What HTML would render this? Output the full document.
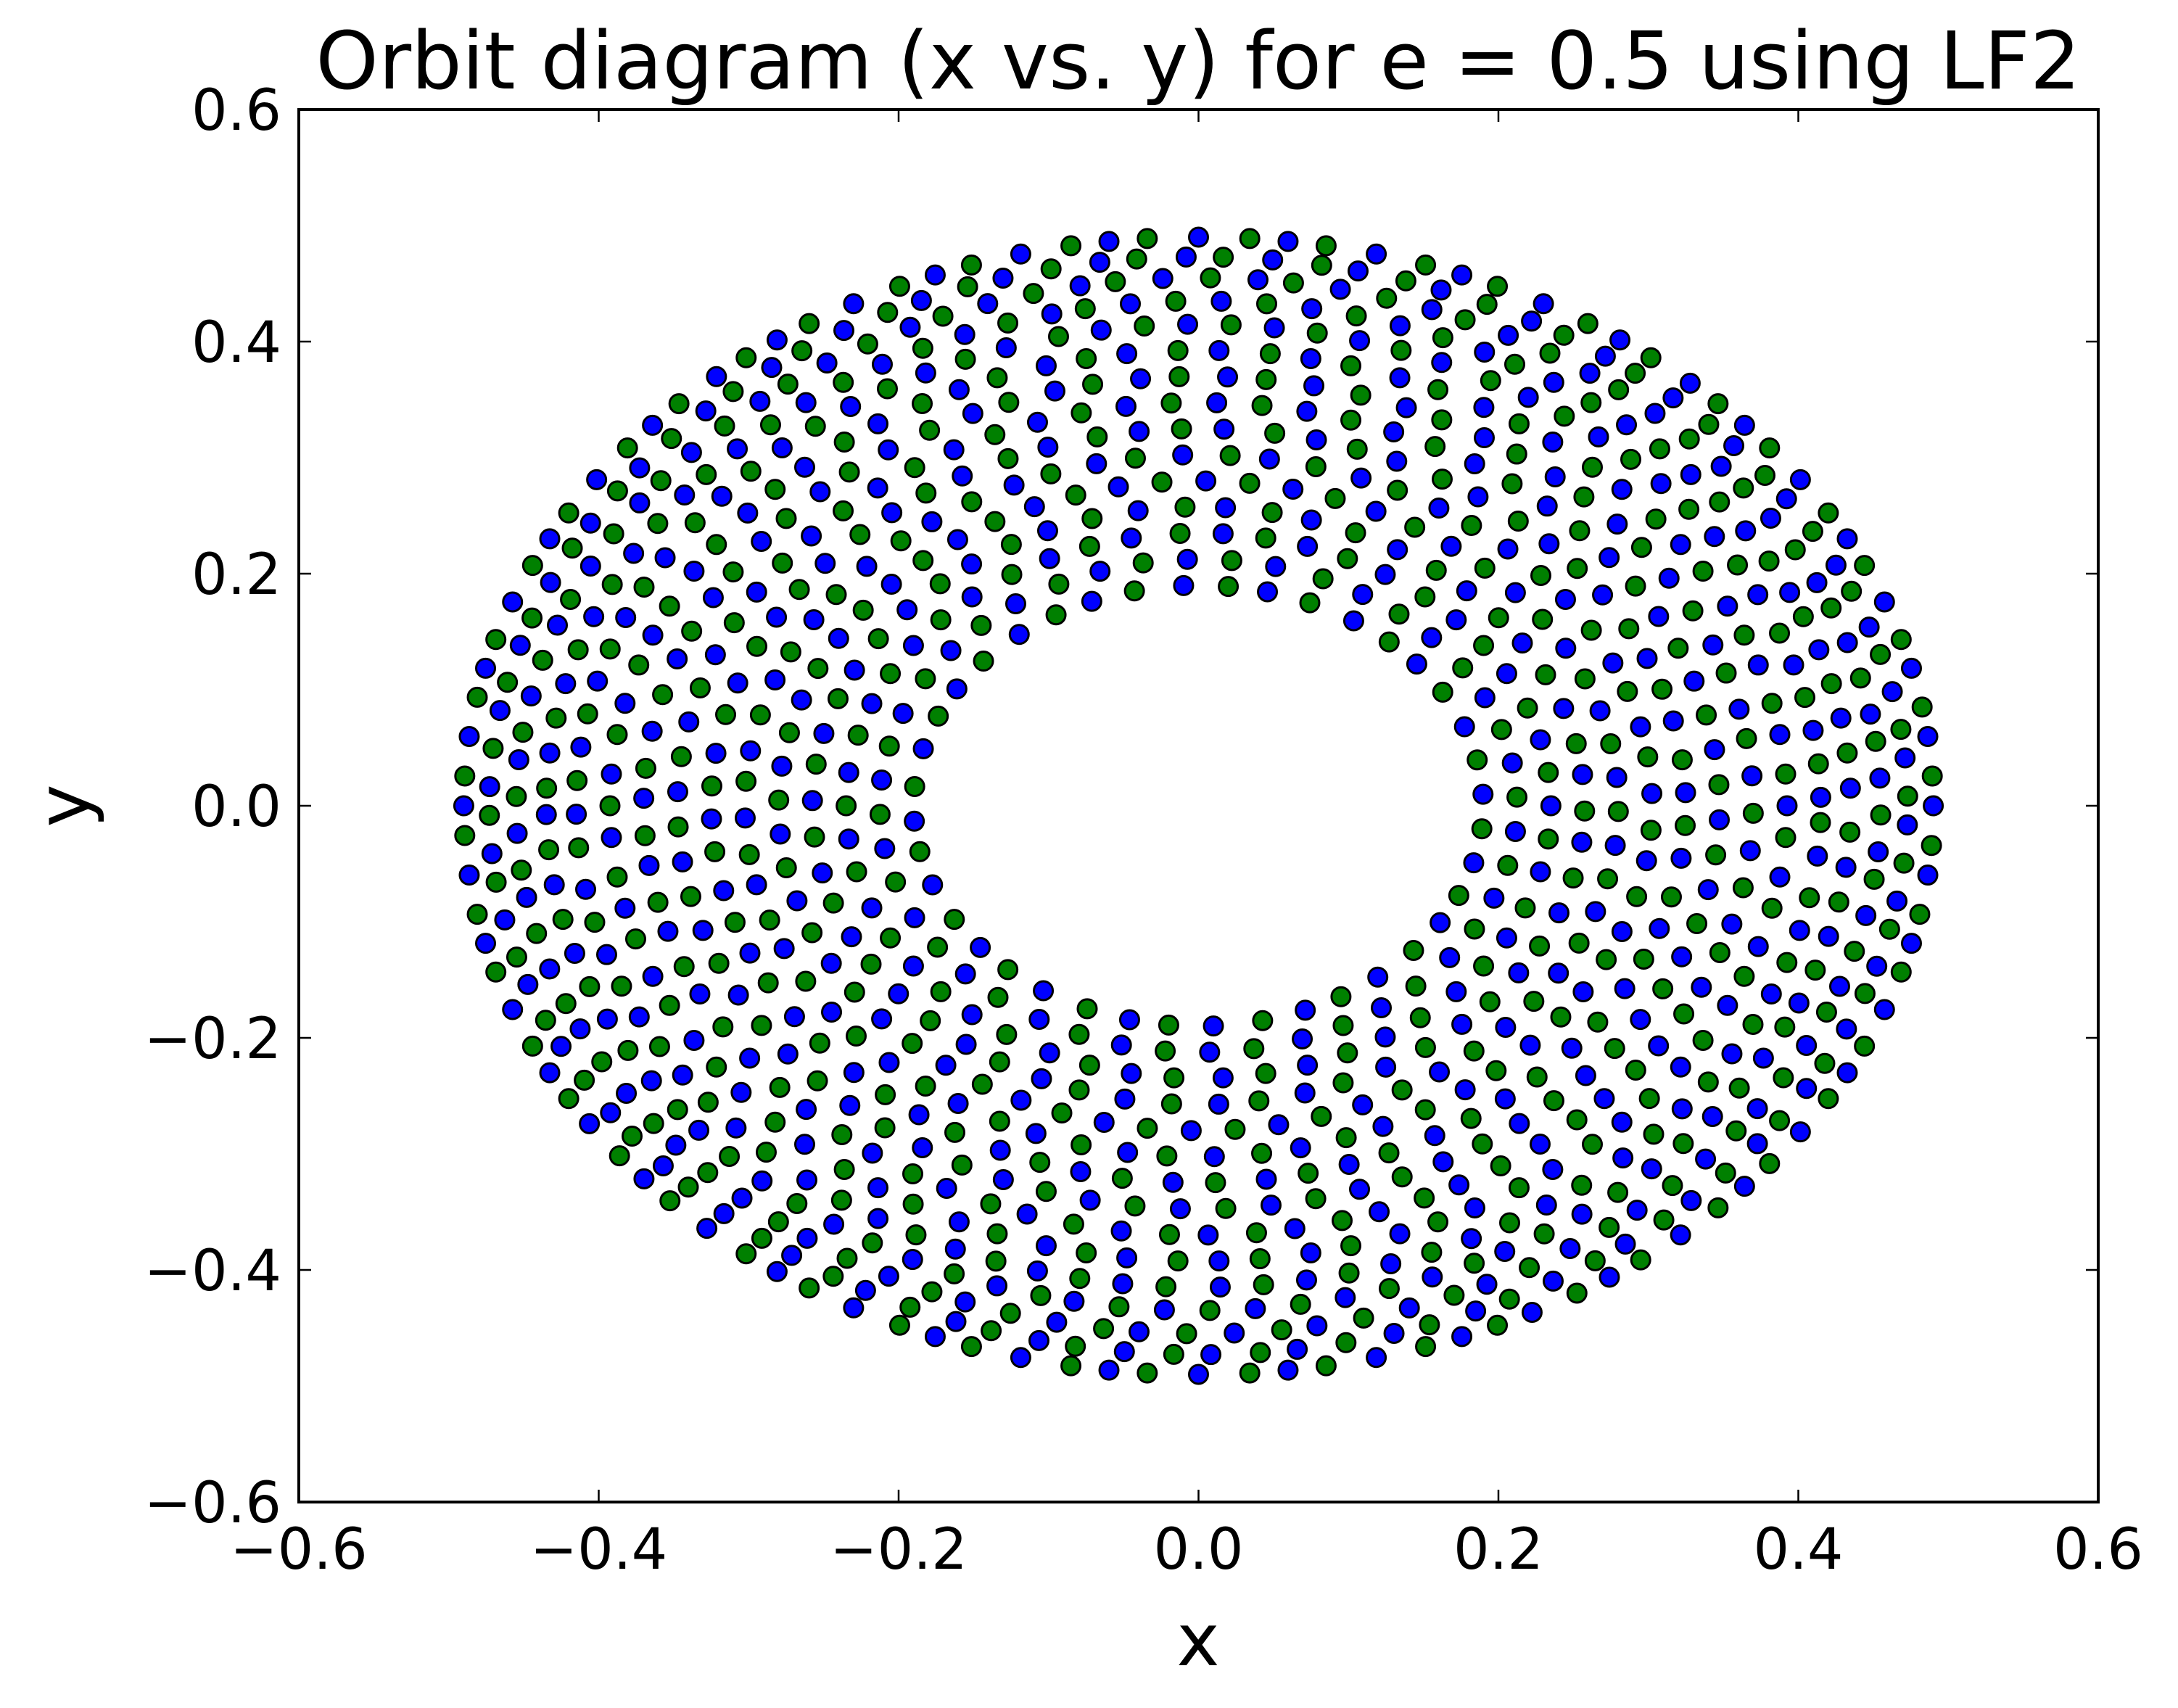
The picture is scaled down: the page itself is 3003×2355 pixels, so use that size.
<!DOCTYPE html>
<html><head><meta charset="utf-8"><style>
html,body{margin:0;padding:0;background:#fff;}
svg{display:block;font-family:"DejaVu Sans","Liberation Sans",sans-serif;}
</style></head><body>
<svg id="chart" width="3003" height="2355" viewBox="0 0 3003 2355" xmlns="http://www.w3.org/2000/svg">
<rect x="0" y="0" width="3003" height="2355" fill="#fff"/>
<text x="1652" y="122" font-size="110" text-anchor="middle">Orbit diagram (x vs. y) for e = 0.5 using LF2</text>
<g id="marks"></g>
<g id="axes"></g>
<text x="1652" y="2296" font-size="100" text-anchor="middle">x</text>
<text x="0" y="0" font-size="100" text-anchor="middle" transform="translate(122,1111) rotate(-90)">y</text>
</svg>
<script>
const xTicks = [-0.6,-0.4,-0.2,0.0,0.2,0.4,0.6];
const yTicks = [-0.6,-0.4,-0.2,0.0,0.2,0.4,0.6];
const tickLabels = ["\u22120.6","\u22120.4","\u22120.2","0.0","0.2","0.4","0.6"];
const blueRadius = [0.19,0.235,0.28,0.325,0.37,0.415,0.455,0.49,0.2125,0.2575,0.3025,0.3475,0.3925,0.435,0.473];
const blueAngles = [
[3,21,40,57,76,93,112,129,148,165,184,201,220,237,256,273,292,309,328,345],
[0,14,29,43,58,72,86,101,115,130,144,158,173,187,202,216,230,245,259,274,288,302,317,331,346],
[5,17,29,41,53,65,77,89,101,113,125,137,149,161,173,185,197,209,221,233,245,257,269,281,293,305,317,329,341,353],
[2,13,23,34,44,55,66,76,87,97,108,119,129,140,150,161,172,182,193,203,214,225,235,246,256,267,278,288,299,309,320,331,341,352],
[4,13,22,32,41,50,59,68,78,87,96,105,114,124,133,142,151,160,170,179,188,197,206,216,225,234,243,252,262,271,280,289,298,308,317,326,335,344,354],
[1,9,17,26,34,42,50,58,67,75,83,91,99,108,116,124,132,140,149,157,165,173,181,190,198,206,214,222,231,239,247,255,263,272,280,288,296,304,313,321,329,337,345,354],
[3,10,18,25,33,40,48,55,63,70,78,85,93,100,108,115,123,130,138,145,153,160,168,175,183,190,198,205,213,220,228,235,243,250,258,265,273,280,288,295,303,310,318,325,333,340,348,355],
[0,7,14,21,28,35,42,48,55,62,69,76,83,90,97,104,111,118,125,131,138,145,152,159,166,173,180,187,194,201,208,214,221,228,235,242,249,256,263,270,277,284,291,297,304,311,318,325,332,339,346,353],
[10,26,43,59,76,92,108,125,141,158,174,190,207,223,240,256,272,289,305,322,338,354],
[6,19,33,46,59,73,86,99,113,126,139,153,166,179,193,206,219,233,246,259,273,286,299,313,326,339,353],
[2,13,24,36,47,58,69,81,92,103,114,126,137,148,159,171,182,193,204,216,227,238,249,261,272,283,294,306,317,328,339,351],
[8,18,28,38,48,58,68,78,88,98,108,118,128,138,148,158,168,178,188,198,208,218,228,238,248,258,268,278,288,298,308,318,328,338,348,358],
[0,9,18,26,35,44,53,61,70,79,88,97,105,114,123,132,140,149,158,167,176,184,193,202,211,219,228,237,246,255,263,272,281,290,298,307,316,325,334,342,351],
[2,10,18,25,33,41,49,57,64,72,80,88,96,103,111,119,127,135,142,150,158,166,174,181,189,197,205,213,220,228,236,244,252,259,267,275,283,291,298,306,314,322,330,337,345,353],
[5,12,19,26,34,41,48,55,62,70,77,84,91,98,106,113,120,127,134,142,149,156,163,170,178,185,192,199,206,214,221,228,235,242,250,257,264,271,278,286,293,300,307,314,322,329,336,343,350,358]
];
const greenRadius = [0.19,0.235,0.28,0.325,0.37,0.415,0.455,0.49,0.2125,0.2575,0.3025,0.3475,0.3925,0.435,0.473];
const greenAngles = [
[12,31,48,67,84,103,120,139,156,175,192,211,228,247,264,283,300,319,336,354],
[7,21,36,50,65,79,93,108,122,137,151,165,180,194,209,223,237,252,266,281,295,309,324,338,353],
[11,23,35,47,59,71,83,95,107,119,131,143,155,167,179,191,203,215,227,239,251,263,275,287,299,311,323,335,347,359],
[7,18,28,39,49,60,71,81,92,102,113,124,134,145,155,166,177,187,198,208,219,230,240,251,261,272,283,293,304,314,325,336,346,357],
[9,18,27,37,46,55,64,73,83,92,101,110,119,129,138,147,156,165,175,184,193,202,211,221,230,239,248,257,267,276,285,294,303,313,322,331,340,349,359],
[5,13,21,30,38,46,54,62,71,79,87,95,103,112,120,128,136,144,153,161,169,177,185,194,202,210,218,226,235,243,251,259,267,276,284,292,300,308,317,325,333,341,349,358],
[7,14,22,29,37,44,52,59,67,74,82,89,97,104,112,119,127,134,142,149,157,164,172,179,187,194,202,209,217,224,232,239,247,254,262,269,277,284,292,299,307,314,322,329,337,344,352,359],
[3,10,17,25,31,39,45,52,58,66,72,80,86,94,100,108,114,122,128,135,141,149,155,163,169,177,183,191,197,205,211,218,224,232,238,246,252,260,266,274,280,288,294,301,307,315,321,329,335,343,349,356],
[2,18,34,51,67,84,100,116,133,149,166,182,198,215,231,248,264,280,297,313,330,346],
[12,26,39,52,66,79,92,106,119,132,146,159,172,186,199,212,226,239,252,266,279,292,306,319,332,346,359],
[8,19,30,41,53,64,75,86,98,109,120,131,143,154,165,176,188,199,210,221,233,244,255,266,278,289,300,311,323,334,345,356],
[3,13,23,33,43,53,63,73,83,93,103,113,123,133,143,153,163,173,183,193,203,213,223,233,243,253,263,273,283,293,303,313,323,333,343,353],
[4,13,22,31,39,48,57,66,75,83,92,101,110,118,127,136,145,154,162,171,180,189,197,206,215,224,233,241,250,259,268,276,285,294,303,312,320,329,338,347,356],
[6,14,22,29,37,45,53,61,68,76,84,92,100,107,115,123,131,139,146,154,162,170,178,185,193,201,209,217,224,232,240,248,256,263,271,279,287,295,302,310,318,326,334,341,349,357],
[1,8,16,23,30,37,44,52,59,66,73,80,88,95,102,109,116,124,131,138,145,152,160,167,174,181,188,196,203,210,217,224,232,239,246,253,260,268,275,282,289,296,304,311,318,325,332,340,347,354]
];

const L=412,R=2893,T=151,B=2071;
const xMin=-0.6,xMax=0.6,yMin=-0.6,yMax=0.6;
function sx(v){return L+(v-xMin)/(xMax-xMin)*(R-L);}
function sy(v){return B-(v-yMin)/(yMax-yMin)*(B-T);}
const NS="http://www.w3.org/2000/svg";
const marks=document.getElementById('marks');
const axes=document.getElementById('axes');

function drawSeries(radii, angles, color, name){
  const g=document.createElementNS(NS,'g');
  
  
  for(let i=0;i<radii.length;i++){
    for(let j=0;j<angles[i].length;j++){
      const a=angles[i][j]*Math.PI/180;
      const xv=radii[i]*Math.cos(a), yv=radii[i]*Math.sin(a);
      const c=document.createElementNS(NS,'circle');
      c.setAttribute('cx',sx(xv));c.setAttribute('cy',sy(yv));
      c.setAttribute('r',13);c.setAttribute('fill',color);
      c.setAttribute('stroke','#000');c.setAttribute('stroke-width',3);
      
      
      g.appendChild(c);
    }
  }
  marks.appendChild(g);
}
drawSeries(blueRadius, blueAngles, '#0000ff', 'blue');
drawSeries(greenRadius, greenAngles, '#008000', 'green');

const frame=document.createElementNS(NS,'rect');
frame.setAttribute('x',L);frame.setAttribute('y',T);
frame.setAttribute('width',R-L);frame.setAttribute('height',B-T);
frame.setAttribute('fill','none');frame.setAttribute('stroke','#000');frame.setAttribute('stroke-width',4);


axes.appendChild(frame);

function line(x1,y1,x2,y2,name){
  const l=document.createElementNS(NS,'line');
  l.setAttribute('x1',x1);l.setAttribute('y1',y1);l.setAttribute('x2',x2);l.setAttribute('y2',y2);
  l.setAttribute('stroke','#000');l.setAttribute('stroke-width',2.5);
  
  
  axes.appendChild(l);
}
function label(x,y,txt,anchor,name){
  const t=document.createElementNS(NS,'text');
  t.setAttribute('x',x);t.setAttribute('y',y);t.setAttribute('font-size',78);
  t.setAttribute('text-anchor',anchor);t.textContent=txt;
  
  
  axes.appendChild(t);
}
xTicks.forEach((v,i)=>{
  const x=sx(v);
  line(x,B,x,B-17,'x-tick');
  line(x,T,x,T+17,'x-tick-top');
  label(x,B+92,tickLabels[i],'middle','x-tick-label');
});
yTicks.forEach((v,i)=>{
  const y=sy(v);
  line(L,y,L+17,y,'y-tick');
  line(R,y,R-17,y,'y-tick-right');
  label(L-24,y+28,tickLabels[i],'end','y-tick-label');
});
</script>
</body></html>
